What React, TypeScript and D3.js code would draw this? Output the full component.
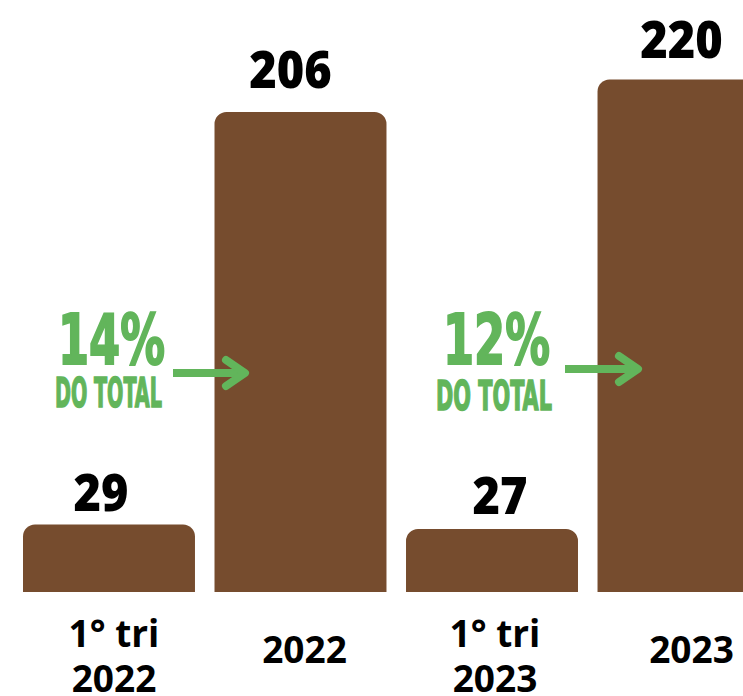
import React from "react";
import * as d3 from "d3";

const categories = ["1° tri|2022", "2022", "1° tri|2023", "2023"];
const values = [29, 206, 27, 220];
const shares = ["14%", "12%"];
const shareSub = "DO TOTAL";

const W = 743, H = 696;
const BROWN = "#764c2e";
const GREEN = "#62b55b";

export default function App() {
  const x = d3.scaleBand<string>().domain(categories).range([23, 769.5]).paddingInner(0.102).paddingOuter(0);
  const y = d3.scaleLinear().domain([0, 206]).range([592, 112]);
  const r = 12;
  const barPath = (c: string, v: number) => {
    const x0 = x(c)!, w = x.bandwidth(), y0 = y(v), yb = y(0);
    const p = d3.path();
    p.moveTo(x0, yb);
    p.lineTo(x0, y0 + r);
    p.arcTo(x0, y0, x0 + r, y0, r);
    p.lineTo(x0 + w - r, y0);
    p.arcTo(x0 + w, y0, x0 + w, y0 + r, r);
    p.lineTo(x0 + w, yb);
    p.closePath();
    return p.toString();
  };
  const font = "'Open Sans', 'Noto Sans', sans-serif";
  const cond = "'DejaVu Sans Condensed', 'DejaVu Sans', sans-serif";
  const labelDx = [5, 4, 3, 8];
  const valueDx = [-8, -10, 8, -2];
  const valueGap = [13, 24, 15, 21];
  const annots = [
    { text: shares[0], pctX: 58, pctW: 107, pctY: 364, subX: 55, subW: 107, subY: 407, arrowX0: 173, arrowX1: 245, arrowY: 373 },
    { text: shares[1], pctX: 443, pctW: 107, pctY: 364, subX: 436, subW: 116, subY: 410, arrowX0: 565, arrowX1: 638, arrowY: 369 },
  ];
  return (
    <div style={{ position: "fixed", left: 0, top: 0 }}>
      <svg width={W} height={H} style={{ display: "block", background: "#fff" }}>
        {categories.map((c, i) => (
          <path key={c} d={barPath(c, values[i])} fill={BROWN} />
        ))}
        {categories.map((c, i) => {
          const s = String(values[i]);
          const cx = x(c)! + x.bandwidth() / 2 + valueDx[i];
          const tl = s.length * 27.5;
          return (
            <text key={"v" + c} x={cx - tl / 2} y={y(values[i]) - valueGap[i]}
              fontFamily={font} fontWeight={800} fontSize={51} fill="#000"
              textLength={tl} lengthAdjust="spacingAndGlyphs">{s}</text>
          );
        })}
        {categories.map((c, i) => {
          const lines = c.split("|");
          const cx = x(c)! + x.bandwidth() / 2 + labelDx[i];
          if (lines.length === 2) {
            return (
              <g key={"l" + c}>
                <text x={cx} y={647} textAnchor="middle" fontFamily={font} fontWeight={700} fontSize={37} fill="#000">{lines[0]}</text>
                <text x={cx} y={692} textAnchor="middle" fontFamily={font} fontWeight={700} fontSize={37} fill="#000">{lines[1]}</text>
              </g>
            );
          }
          return <text key={"l" + c} x={cx} y={663} textAnchor="middle" fontFamily={font} fontWeight={700} fontSize={37} fill="#000">{lines[0]}</text>;
        })}
        {annots.map((a, i) => (
          <g key={"a" + i} fill={GREEN}>
            <text x={a.pctX} y={a.pctY} fontFamily={cond} fontWeight={700} fontSize={70} stroke={GREEN} strokeWidth={2}
              textLength={a.pctW} lengthAdjust="spacingAndGlyphs">{a.text}</text>
            <text x={a.subX} y={a.subY} fontFamily={cond} fontWeight={700} fontSize={41} stroke={GREEN} strokeWidth={1.5}
              textLength={a.subW} lengthAdjust="spacingAndGlyphs">{shareSub}</text>
            <line x1={a.arrowX0} x2={a.arrowX1 - 3} y1={a.arrowY} y2={a.arrowY} stroke={GREEN} strokeWidth={8} />
            <polyline points={`${a.arrowX1 - 19},${a.arrowY - 13} ${a.arrowX1},${a.arrowY} ${a.arrowX1 - 19},${a.arrowY + 13}`}
              fill="none" stroke={GREEN} strokeWidth={8} strokeLinecap="round" strokeLinejoin="round" />
          </g>
        ))}
      </svg>
    </div>
  );
}
